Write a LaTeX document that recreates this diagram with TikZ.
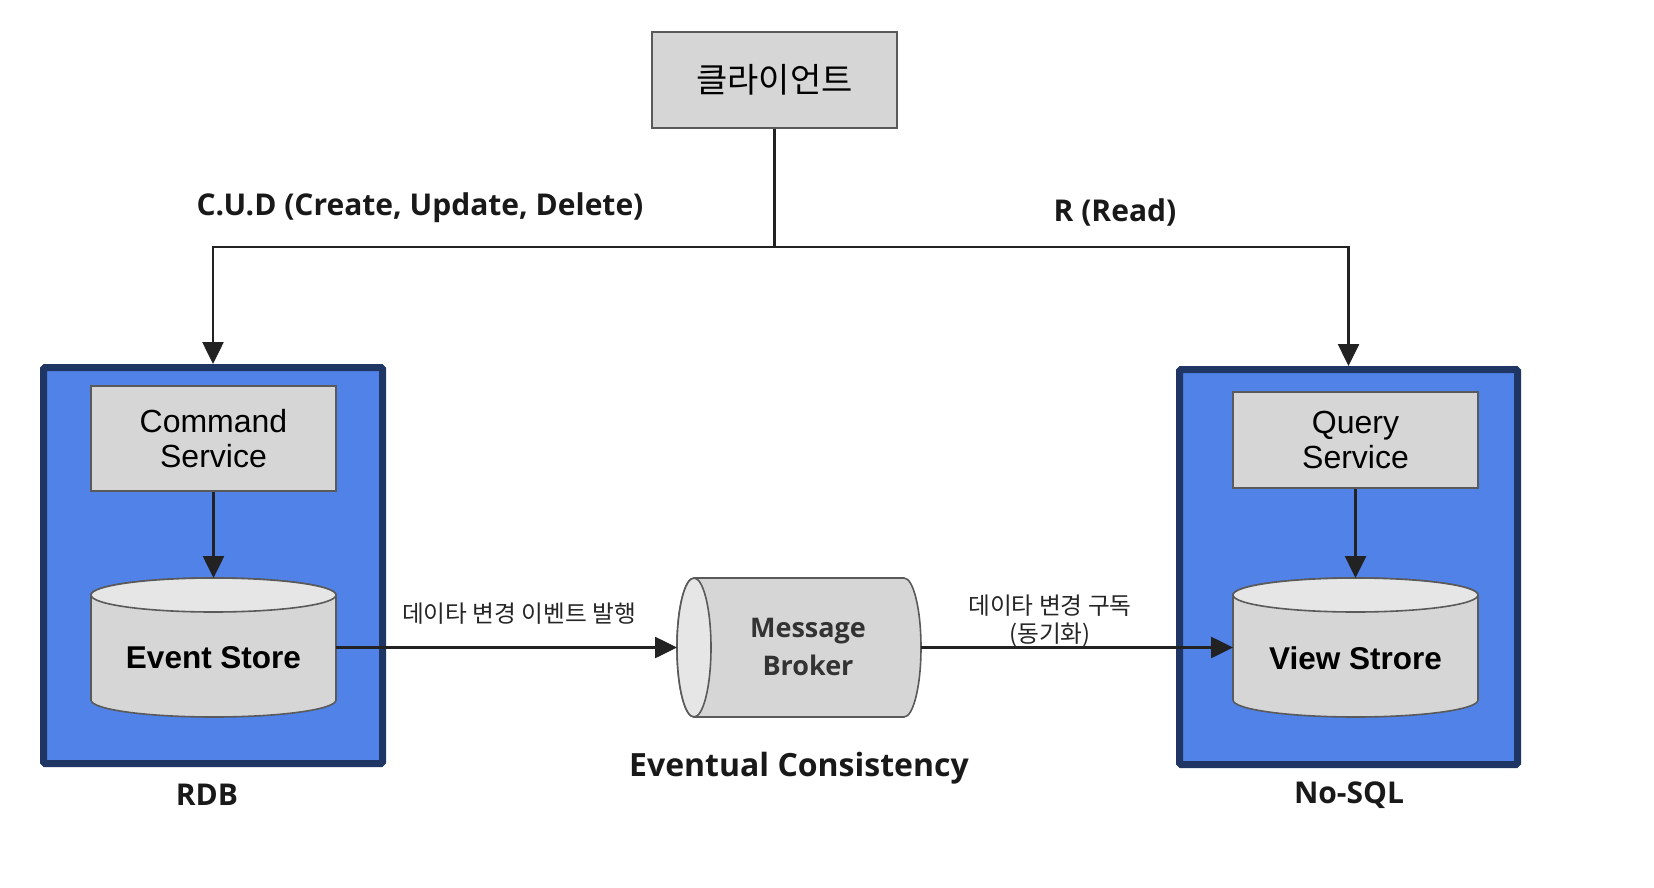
\documentclass[tikz,border=0pt]{standalone}
\usepackage{fontspec}
\setmainfont{Liberation Sans}
\newfontfamily\krfont{Noto Sans CJK KR}
\newfontfamily\osfont{Open Sans}
\usetikzlibrary{arrows.meta}
\definecolor{boxfill}{HTML}{D6D6D6}
\definecolor{boxline}{HTML}{5A5A5A}
\definecolor{capfill}{HTML}{E6E6E6}
\definecolor{contfill}{HTML}{5082E8}
\definecolor{contline}{HTML}{1F3564}
\definecolor{ink}{HTML}{222222}
\tikzset{
  grbox/.style={draw=boxline, fill=boxfill, line width=1.6pt, minimum width=245pt, inner sep=0pt, align=center},
  container/.style={draw=contline, fill=contfill, line width=7pt, rounded corners=1.5pt, inner sep=0pt},
  anchorbox/.style={draw=none, inner sep=0pt, outer sep=0pt},
  conn/.style={draw=ink, line width=2.6pt},
  arr/.style={conn, -{Triangle[length=22pt,width=21pt]}},
  cylbody/.style={draw=boxline, fill=boxfill, line width=1.6pt},
  cyltop/.style={draw=boxline, fill=capfill, line width=1.6pt},
  boldlbl/.style={font=\osfont\bfseries\fontsize{30}{36}\selectfont, text=black!90, inner sep=0pt},
  krlbl/.style={font=\krfont\fontsize{23.7}{28}\selectfont, text=black!85, inner sep=0pt, align=center},
}
\begin{document}
\begin{tikzpicture}[x=1pt,y=-1pt]
\useasboundingbox (0,0) rectangle (1654,888);
\fill[white] (0,0) rectangle (1654,888);

% containers
\node[container, minimum width=339pt, minimum height=396pt] (rdb) at (213,565.5) {};
\node[container, minimum width=338pt, minimum height=395pt] (nosql) at (1348.5,567) {};

% client
\node[grbox, minimum height=96pt, font=\krfont\fontsize{34}{38}\selectfont] (client) at (774.5,80) {클라이언트};

% services
\node[grbox, minimum height=105pt, font=\fontsize{32}{35}\selectfont] (cmd) at (213.5,438.5) {Command\\Service};
\node[grbox, minimum height=96pt, font=\fontsize{32}{35}\selectfont] (qry) at (1355.5,440) {Query\\Service};

% Event Store cylinder
\path[cylbody] (91,595) -- (91,700) arc[start angle=180, end angle=360, x radius=122.5pt, y radius=17pt]
  -- (336,595) arc[start angle=0, end angle=180, x radius=122.5pt, y radius=17pt] -- cycle;
\path[cyltop] (213.5,595) ellipse[x radius=122.5pt, y radius=17pt];
\node[anchorbox, minimum width=245pt, minimum height=139pt] (es) at (213.5,647.5) {};
\node[font=\bfseries\fontsize{31.5}{35}\selectfont, inner sep=0pt] (estext) at (213.5,658) {Event Store};

% View Store cylinder
\path[cylbody] (1233,595) -- (1233,700) arc[start angle=180, end angle=360, x radius=122.5pt, y radius=17pt]
  -- (1478,595) arc[start angle=0, end angle=180, x radius=122.5pt, y radius=17pt] -- cycle;
\path[cyltop] (1355.5,595) ellipse[x radius=122.5pt, y radius=17pt];
\node[anchorbox, minimum width=245pt, minimum height=139pt] (vs) at (1355.5,647.5) {};
\node[font=\bfseries\fontsize{31.5}{35}\selectfont, inner sep=0pt] (vstext) at (1355.5,658) {View Strore};

% Message Broker cylinder (horizontal)
\path[cylbody] (694,578) -- (904,578) arc[start angle=90, end angle=-90, x radius=17pt, y radius=69.5pt]
  -- (694,717) arc[start angle=270, end angle=90, x radius=17pt, y radius=69.5pt] -- cycle;
\path[cyltop] (694,647.5) ellipse[x radius=17pt, y radius=69.5pt];
\node[anchorbox, minimum width=244pt, minimum height=139pt] (mb) at (799,647.5) {};
\node[font=\osfont\bfseries\fontsize{27}{38}\selectfont, text=black!80, align=center, inner sep=0pt] (mbtext) at (808,647) {Message\\Broker};

% connectors
\coordinate (j) at (774.5,247);
\draw[conn] (client.south) -- (j);
\draw[arr] (j) -| (rdb.north);
\draw[arr] (j) -| (nosql.north);
\draw[arr] (cmd.south) -- (es.north);
\draw[arr] (qry.south) -- (vs.north);
\draw[arr] (es.east) -- (mb.west);
\draw[arr] (mb.east) -- (vs.west);

% labels
\node[boldlbl] (cud) at (420,208) {C.U.D (Create, Update, Delete)};
\node[boldlbl] (read) at (1115,212) {R (Read)};
\node[krlbl] (pub) at (519,614) {데이타 변경 이벤트 발행};
\node[krlbl] (sub) at (1050,621) {데이타 변경 구독\\(동기화)};
\node[boldlbl, font=\osfont\bfseries\fontsize{32}{38}\selectfont] (ec) at (799,768) {Eventual Consistency};
\node[boldlbl] (rdblbl) at (207,795) {RDB};
\node[boldlbl] (nosqllbl) at (1349,795) {No-SQL};
\end{tikzpicture}
\end{document}
